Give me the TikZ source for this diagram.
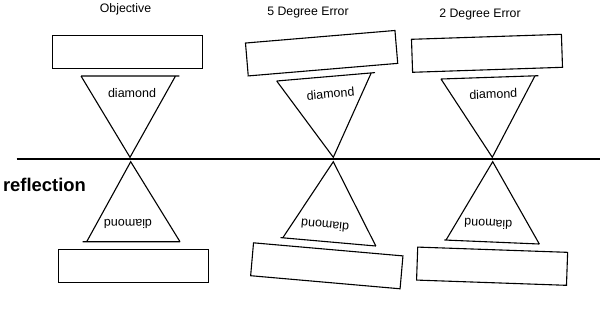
\documentclass[tikz,border=0pt]{standalone}
\usepackage{fontspec}
\setmainfont{Liberation Sans}
\begin{document}
\begin{tikzpicture}[x=1pt,y=-1pt,
  line width=1.1pt, line join=miter,
  box/.style={draw, minimum width=150pt, minimum height=33pt, inner sep=0pt},
  title/.style={font=\fontsize{12.3}{14}\selectfont, anchor=base, inner sep=0pt},
  lbl/.style={font=\fontsize{12.5}{14}\selectfont, inner sep=0pt}]
\useasboundingbox (0,0) rectangle (600,322);
\fill[white] (0,0) rectangle (600,322);

% titles
\node[title] (t1) at (125.5,12.3) {Objective};
\node[title] (t2) at (308,15.2) {5 Degree Error};
\node[title] (t3) at (480,17.6) {2 Degree Error};
\node[font=\bfseries\fontsize{18.4}{20}\selectfont, anchor=west, inner sep=0pt] (refl) at (2.5,185) {reflection};

% mirror line
\coordinate (mL) at (16.7,159);
\coordinate (mR) at (600,159);
\draw (mL) -- (mR);

% boxes
\node[box] (b1u) at (127.5,52.3) {};
\node[box, rotate=4.8] (b2u) at (321.6,53.2) {};
\node[box, rotate=1.9] (b3u) at (487,53.3) {};
\node[box] (b1d) at (133.7,265.9) {};
\node[box, rotate=-5] (b2d) at (326.8,265.8) {};
\node[box, rotate=-2] (b3d) at (492.1,266.2) {};

% triangle corners: column 1
\coordinate (a1u) at (130,157.3);
\coordinate (l1u) at (81,76);
\coordinate (r1u) at (179.3,76);
\coordinate (s1u) at (175.5,76);
\coordinate (a1d) at (130.7,161.7);
\coordinate (l1d) at (82.7,241.7);
\coordinate (k1d) at (86.7,241.7);
\coordinate (r1d) at (180,241.7);
% column 2
\coordinate (a2u) at (333.3,157.3);
\coordinate (l2u) at (276.7,81);
\coordinate (r2u) at (375,72.6);
\coordinate (s2u) at (371.2,73.0);
\coordinate (a2d) at (333.3,161.7);
\coordinate (l2d) at (280.5,237.6);
\coordinate (k2d) at (282.8,237.8);
\coordinate (r2d) at (375.8,246);
% column 3
\coordinate (a3u) at (492.3,157.3);
\coordinate (l3u) at (441,79);
\coordinate (r3u) at (538.3,75.7);
\coordinate (s3u) at (535,75.8);
\coordinate (a3d) at (492.7,161.7);
\coordinate (l3d) at (444.3,240);
\coordinate (k3d) at (446,240.1);
\coordinate (r3d) at (539.3,244);

% triangles
\draw (l1u) -- (r1u) (l1u) -- (a1u) -- (s1u);
\draw (l1d) -- (r1d) (k1d) -- (a1d) -- (r1d);
\draw (l2u) -- (r2u) (l2u) -- (a2u) -- (s2u);
\draw (l2d) -- (r2d) (k2d) -- (a2d) -- (r2d);
\draw (l3u) -- (r3u) (l3u) -- (a3u) -- (s3u);
\draw (l3d) -- (r3d) (k3d) -- (a3d) -- (r3d);

% labels
\node[lbl] (d1u) at (132,93) {diamond};
\node[lbl, rotate=5] (d2u) at (330.5,93.5) {diamond};
\node[lbl, rotate=2] (d3u) at (493.3,94) {diamond};
\node[lbl, rotate=180] (d1d) at (128,224) {diamond};
\node[lbl, rotate=175] (d2d) at (325,225.5) {diamond};
\node[lbl, rotate=178] (d3d) at (488.3,224) {diamond};
\end{tikzpicture}
\end{document}
